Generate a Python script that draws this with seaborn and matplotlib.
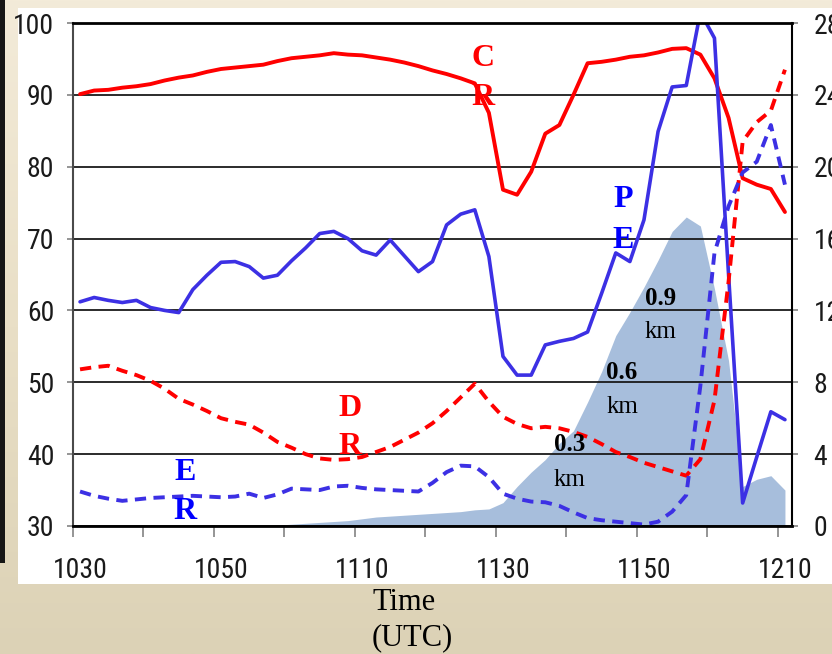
import numpy as np
import pandas as pd
import matplotlib
matplotlib.use("Agg")
import matplotlib.pyplot as plt
import matplotlib.transforms as mtrans
from matplotlib import font_manager as fm
from matplotlib.colors import LinearSegmentedColormap
from matplotlib.patches import Rectangle
import seaborn as sns

# ---------------- data ----------------
time_hhmm = [1031, 1033, 1035, 1037, 1039, 1041, 1043, 1045, 1047, 1049,
             1051, 1053, 1055, 1057, 1059, 1101, 1103, 1105, 1107, 1109,
             1111, 1113, 1115, 1117, 1119, 1121, 1123, 1125, 1127, 1129,
             1131, 1133, 1135, 1137, 1139, 1141, 1143, 1145, 1147, 1149,
             1151, 1153, 1155, 1157, 1159, 1201, 1203, 1205, 1207, 1209,
             1211]

cr = [90.1, 90.6, 90.7, 91.0, 91.2, 91.5, 92.0, 92.4, 92.7, 93.2,
      93.6, 93.8, 94.0, 94.2, 94.7, 95.1, 95.3, 95.5, 95.8, 95.6,
      95.5, 95.2, 94.9, 94.5, 94.0, 93.4, 92.9, 92.3, 91.6, 87.5,
      76.8, 76.1, 79.3, 84.6, 85.8, 90.0, 94.4, 94.6, 94.9, 95.3,
      95.5, 95.9, 96.4, 96.5, 95.6, 92.3, 86.8, 78.4, 77.5, 76.9,
      73.7]

pe = [61.2, 61.8, 61.4, 61.1, 61.4, 60.4, 60.0, 59.7, 62.9, 64.9,
      66.7, 66.8, 66.1, 64.5, 64.9, 66.9, 68.7, 70.7, 71.0, 70.0,
      68.3, 67.7, 69.8, 67.6, 65.4, 66.8, 71.9, 73.4, 74.0, 67.5,
      53.6, 51.0, 51.0, 55.2, 55.7, 56.1, 57.0, 62.4, 68.0, 66.8,
      72.6, 84.9, 91.1, 91.3, 101.5, 97.9, 65.0, 33.2, 39.6, 45.9,
      44.8]

dr = [51.8, 52.1, 52.3, 51.6, 51.0, 50.2, 49.1, 47.7, 46.9, 46.0,
      45.0, 44.5, 44.1, 43.0, 41.7, 40.9, 40.0, 39.4, 39.2, 39.3,
      39.6, 40.3, 41.0, 42.0, 43.0, 44.3, 46.0, 47.9, 49.8, 47.3,
      45.2, 44.2, 43.6, 43.8, 43.6, 43.1, 42.4, 41.4, 40.3, 39.6,
      38.8, 38.2, 37.6, 37.0, 39.3, 47.5, 64.0, 83.5, 86.2, 87.8,
      93.5]

er = [34.8, 34.2, 33.8, 33.5, 33.7, 33.9, 34.0, 34.1, 34.2, 34.1,
      34.0, 34.1, 34.5, 33.9, 34.4, 35.2, 35.1, 35.0, 35.5, 35.6,
      35.3, 35.1, 35.0, 34.9, 34.8, 36.0, 37.5, 38.4, 38.3, 36.8,
      34.5, 33.8, 33.4, 33.3, 32.8, 31.9, 31.1, 30.8, 30.6, 30.4,
      30.2, 30.6, 32.0, 34.3, 49.5, 68.0, 74.5, 79.2, 80.7, 85.8,
      77.5]

area = [0, 0, 0, 0, 0, 0, 0, 0, 0, 0,
        0, 0, 0, 0, 0.05, 0.1, 0.15, 0.2, 0.25, 0.3,
        0.4, 0.5, 0.55, 0.6, 0.65, 0.7, 0.75, 0.8, 0.9, 0.95,
        1.3, 2.2, 3.0, 3.7, 4.6, 5.3, 6.9, 8.6, 10.6, 11.9,
        13.3, 14.8, 16.4, 17.2, 16.7, 13.2, 9.2, 2.2, 2.6, 2.8,
        2.0]

xtick_labels = ["1030", "", "1050", "", "1110", "", "1130", "", "1150", "", "1210"]
left_ticks = [30, 40, 50, 60, 70, 80, 90, 100]
right_ticks = [0, 4, 8, 12, 16, 20, 24, 28]

# ---------------- style ----------------
sns.set_theme(style="white")
names = {f.name for f in fm.fontManager.ttflist}
candidates = ["Roboto Condensed", "Liberation Sans Narrow", "Noto Sans Condensed"]
tick_font = next((c for c in candidates if c in names), None)
if tick_font is None:
    tick_font = "DejaVu Sans"
    plt.rcParams["font.stretch"] = "condensed"
plt.rcParams["font.family"] = [tick_font, "DejaVu Sans"]
SERIF = ["Liberation Serif", "DejaVu Serif"]

W, H = 832, 654
fig = plt.figure(figsize=(W / 100, H / 100), dpi=100)

# background (beige gradient, dark strip, white panel)
bg = fig.add_axes([0, 0, 1, 1], zorder=-10)
grad = np.linspace(0, 1, 256).reshape(-1, 1)
cmap = LinearSegmentedColormap.from_list("bg", ["#f3ebd9", "#e9dfc6", "#dcd2b6"])
bg.imshow(grad, aspect="auto", cmap=cmap, extent=[0, W, H, 0])
bg.add_patch(Rectangle((0, 0), 5, 563, color="#161616", lw=0))
bg.add_patch(Rectangle((18, 8), W - 18, 584 - 8, color="white", lw=0))
bg.set_xlim(0, W)
bg.set_ylim(H, 0)
bg.axis("off")

df = pd.DataFrame({"hhmm": time_hhmm, "CR": cr, "PE": pe, "DR": dr, "ER": er, "area": area})
df["minutes"] = (df["hhmm"] // 100) * 60 + df["hhmm"] % 100 - 630

ax = fig.add_axes([73 / W, 1 - 526 / H, (792 - 73) / W, (526 - 23) / H])
ax2 = ax.twinx()
ax.set_zorder(3)
ax2.set_zorder(2)
ax.patch.set_visible(False)
ax2.patch.set_visible(False)

ax2.fill_between(df["minutes"], df["area"], 0, color="#a7bedc", lw=0)
ax2.set_ylim(0, 28)
ax2.set_yticks(right_ticks)

RED = "#ff0000"
BLUE = "#3c30e4"
sns.lineplot(data=df, x="minutes", y="CR", ax=ax, color=RED, lw=2.8, legend=False)
sns.lineplot(data=df, x="minutes", y="PE", ax=ax, color=BLUE, lw=2.6, legend=False)
sns.lineplot(data=df, x="minutes", y="DR", ax=ax, color=RED, lw=2.8, dashes=(2.9, 1.9), legend=False)
sns.lineplot(data=df, x="minutes", y="ER", ax=ax, color=BLUE, lw=2.8, dashes=(2.9, 1.9), legend=False)

ax.set_xlim(0, 102)
ax.set_ylim(30, 100)
ax.set_xticks(range(0, 101, 10))
ax.set_xticklabels(xtick_labels)
ax.set_yticks(left_ticks)
ax.set_xlabel("")
ax.set_ylabel("")
ax2.set_ylabel("")
ax.yaxis.grid(True, color="#1a1a1a", lw=1.3)
ax.xaxis.grid(False)
ax.set_axisbelow(True)

for side, sp in ax.spines.items():
    sp.set_visible(True)
ax.spines["top"].set_color("#000000"); ax.spines["top"].set_linewidth(2.0)
ax.spines["bottom"].set_color("#000000"); ax.spines["bottom"].set_linewidth(2.0)
ax.spines["left"].set_color("#4a4a4a"); ax.spines["left"].set_linewidth(1.5)
ax.spines["right"].set_color("#000000"); ax.spines["right"].set_linewidth(1.5)
for sp in ax2.spines.values():
    sp.set_visible(False)

TICK_FS = 20
ax.tick_params(axis="x", bottom=True, direction="out", length=8, width=1.3, color="#8c8c8c",
               pad=14, labelsize=TICK_FS, labelcolor="#1a1a1a")
ax.tick_params(axis="y", left=True, direction="out", length=4.5, width=1.3, color="#8c8c8c",
               pad=9, labelsize=TICK_FS, labelcolor="#1a1a1a")
ax2.tick_params(axis="y", right=True, direction="out", length=4.5, width=1.3, color="#8c8c8c",
                pad=11, labelsize=TICK_FS, labelcolor="#1a1a1a")

offset = mtrans.ScaledTranslation(7 / 100, 0, fig.dpi_scale_trans)
for lbl in ax.get_xticklabels():
    lbl.set_transform(lbl.get_transform() + offset)

lab = dict(family=SERIF, weight="bold", fontsize=23, ha="center", va="center", zorder=10)
ax.text(58.2, 95.0, "C", color="#ff0000", **lab)
ax.text(58.2, 89.7, "R", color="#ff0000", **lab)
ax.text(78.0, 75.4, "P", color="#0000ff", **lab)
ax.text(78.0, 69.8, "E", color="#0000ff", **lab)
ax.text(39.3, 46.4, "D", color="#ff0000", **lab)
ax.text(39.3, 41.0, "R", color="#ff0000", **lab)
ax.text(15.9, 37.4, "E", color="#0000ff", **lab)
ax.text(15.9, 32.0, "R", color="#0000ff", **lab)

hb = dict(family=SERIF, weight="bold", fontsize=18, ha="center", va="center", color="black", zorder=10)
hn = dict(family=SERIF, fontsize=18, ha="center", va="center", color="black", zorder=10)
ax.text(83.3, 61.7, "0.9", **hb)
ax.text(83.4, 57.0, "km", **hn)
ax.text(77.9, 51.3, "0.6", **hb)
ax.text(77.9, 46.6, "km", **hn)
ax.text(70.5, 41.3, "0.3", **hb)
ax.text(70.5, 36.4, "km", **hn)

fig.text(404 / W, 1 - 602 / H, "Time", family=SERIF, fontsize=22, ha="center", va="center", color="black")
fig.text(412 / W, 1 - 638 / H, "(UTC)", family=SERIF, fontsize=22, ha="center", va="center", color="black")

fig.savefig("out.png", dpi=100)
